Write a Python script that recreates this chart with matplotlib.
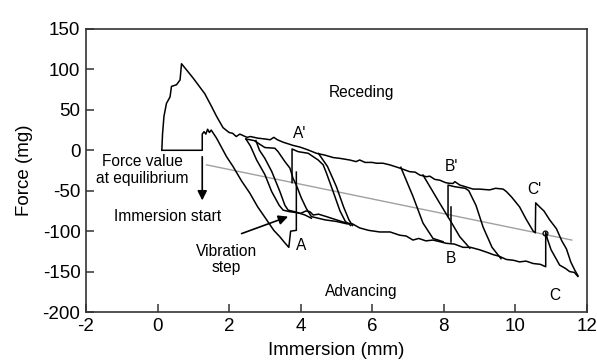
import matplotlib
matplotlib.use("Agg")
import matplotlib.pyplot as plt

plt.rcParams['font.family'] = ['Liberation Sans', 'DejaVu Sans']
plt.rcParams['axes.unicode_minus'] = False

# ---- data (immersion mm, force mg) ----
# equilibrium + first peak + receding (upper) envelope + C' step + final descent
top_x = [0.12, 0.14, 0.18, 0.25, 0.35, 0.39, 0.53, 0.63, 0.67, 0.8, 1.0, 1.32, 1.5, 1.65, 1.83, 2.0, 2.1,
         2.2, 2.3, 2.4, 2.5, 2.6, 2.8, 3.0, 3.15, 3.25, 3.35, 3.51, 3.79, 3.98, 4.21, 4.44, 4.68, 4.91,
         5.1, 5.37, 5.55, 5.65, 5.8, 6.0, 6.12, 6.3, 6.49, 6.77, 7.05, 7.2, 7.33, 7.52, 7.61, 7.75, 7.89,
         8.05, 8.15, 8.26, 8.31, 8.45, 8.6, 8.82, 9.0, 9.28, 9.45, 9.66, 9.75, 9.9, 10.12, 10.3, 10.5,
         10.56, 10.57, 10.68, 10.8, 10.96, 11.15, 11.3, 11.43, 11.55, 11.66, 11.75]
top_y = [0, 20, 42, 58, 66, 79, 81, 87, 107, 100, 89, 70, 55, 42, 28, 22, 21,
         17, 20, 18, 16, 17, 15, 14, 13, 16, 13, 10, 6, 4, 0.4, -3.7, -6, -9,
         -10, -12, -14, -12, -15, -15, -16, -16, -18, -22, -26.5, -27, -30.6, -32.7, -32, -36, -37,
         -40, -40.8, -41, -38.8, -43, -45, -48, -48, -49, -47, -48, -51, -58, -70, -85, -100,
         -102, -65, -70, -75, -86, -97, -112, -122, -138, -148, -155]

# equilibrium baseline, immersion start, first advancing run to A, vibration step at A
init_x = [0.12, 1.25, 1.25, 1.3, 1.35, 1.4, 1.45, 1.5, 1.65, 1.93, 2.11, 2.35, 2.58, 2.8, 3.05, 3.25,
          3.42, 3.55, 3.67, 3.72, 3.88, 3.88]
init_y = [0, 0, 20, 23, 20, 26, 22, 25, 15, -8, -20, -38, -53, -70, -86, -99,
          -107, -114, -120, -100, -99, -27]

# advancing (lower) envelope incl. vibration step at C and final descent
low_x = [2.47, 2.6, 2.77, 3.0, 3.19, 3.4, 3.51, 3.7, 3.88, 4.0, 4.15, 4.26, 4.35, 4.5, 4.72, 5.0, 5.28,
         5.45, 5.65, 5.9, 6.21, 6.5, 6.77, 6.95, 7.14, 7.3, 7.5, 7.7, 7.89, 8.07, 8.3, 8.54, 8.75, 9.0,
         9.2, 9.38, 9.55, 9.75, 9.95, 10.12, 10.3, 10.5, 10.7, 10.85, 10.85, 10.9, 11.0, 11.24, 11.4,
         11.52, 11.65, 11.75]
low_y = [14, 5, -12, -30, -51, -68, -74, -76, -77, -78, -75, -76, -80, -79, -82, -86, -90,
         -91, -96, -99, -101, -101, -105, -106, -111, -109, -112, -111, -113, -115, -116, -120, -120, -123,
         -126, -129, -131, -135, -136, -138, -137, -140, -141, -144, -101, -110, -123, -142, -146,
         -150, -151, -156]

# additional descending branches of the hysteresis loops
k2_x = [2.47, 2.7, 3.0, 3.28, 3.37, 3.56, 3.7, 3.79, 3.88, 4.02, 4.16, 4.3, 4.49, 4.68, 5.0, 5.3]
k2_y = [14, 12, 3.4, 2.5, -1.7, -14, -22, -35, -43, -59, -72, -82, -84, -86, -88, -91]

k3_x = [2.75, 2.85, 3.0, 3.19, 3.42, 3.56, 3.65, 3.84, 4.12, 4.3]
k3_y = [12, 0, -10, -26, -51, -68, -74, -76, -80, -84]

ap_x = [3.76, 3.76, 3.93, 4.21, 4.49, 4.63, 4.72, 4.9, 5.1, 5.25, 5.4]
ap_y = [-40, 1.6, -1.7, -3.7, -12, -18, -28, -50, -75, -88, -93]

da_x = [4.5, 4.75, 5.0, 5.2, 5.35, 5.45]
da_y = [-4, -20, -45, -70, -86, -93]

db1_x = [6.8, 7.14, 7.42, 7.7, 7.98]
db1_y = [-21, -57, -90, -109, -113]

db2_x = [7.42, 7.89, 8.17, 8.45, 8.73]
db2_y = [-30.6, -65.6, -86, -107, -121]

bp_x = [8.12, 8.12, 8.3, 8.6, 8.7, 8.9, 9.1, 9.35, 9.6]
bp_y = [-82, -43, -45, -47, -50, -68, -95, -120, -134]

b_x = [8.19, 8.19]
b_y = [-113, -70]

# equilibrium (gray) line
eq_x = [1.37, 11.58]
eq_y = [-18, -111]

circle_x = [10.83]
circle_y = [-102]

fig = plt.figure(figsize=(5.97, 3.62), dpi=100)
ax = fig.add_axes([0.144, 0.138, 0.839, 0.782])

ax.plot(eq_x, eq_y, color='#a0a0a0', lw=1.0)
lw = 1.1
for xs, ys in [(top_x, top_y), (init_x, init_y), (low_x, low_y), (k2_x, k2_y), (k3_x, k3_y),
               (ap_x, ap_y), (da_x, da_y), (db1_x, db1_y), (db2_x, db2_y), (bp_x, bp_y), (b_x, b_y)]:
    ax.plot(xs, ys, color='black', lw=lw, solid_joinstyle='round')
ax.plot(circle_x, circle_y, 'o', mfc='none', mec='black', ms=3.5, mew=0.9)

ax.set_xlim(-2, 12)
ax.set_ylim(-200, 150)
ax.set_xticks(range(-2, 13, 2))
ax.set_yticks(range(-200, 151, 50))
ax.tick_params(direction='in', length=6, width=1.1, labelsize=13.5, pad=4, color='#333333',
               top=False, right=False)
for s in ax.spines.values():
    s.set_linewidth(1.2)
    s.set_color('#333333')

ax.set_xlabel('Immersion (mm)', fontsize=13.5, labelpad=5)
ax.set_ylabel('Force (mg)', fontsize=13.5, labelpad=7)

fs = 11.2
ax.text(5.7, 72, 'Receding', fontsize=fs, ha='center', va='center')
ax.text(5.7, -175, 'Advancing', fontsize=fs, ha='center', va='center')
ax.text(3.96, 21, "A'", fontsize=fs, ha='center', va='center')
ax.text(8.21, -20, "B'", fontsize=fs, ha='center', va='center')
ax.text(10.54, -49, "C'", fontsize=fs, ha='center', va='center')
ax.text(4.02, -118, 'A', fontsize=fs, ha='center', va='center')
ax.text(8.21, -134, 'B', fontsize=fs, ha='center', va='center')
ax.text(11.1, -180, 'C', fontsize=fs, ha='center', va='center')
ax.text(-0.42, -24, 'Force value\nat equilibrium', fontsize=fs, ha='center', va='center',
        linespacing=1.15)
ax.text(0.28, -82, 'Immersion start', fontsize=fs, ha='center', va='center')
ax.text(1.93, -135, 'Vibration\nstep', fontsize=fs, ha='center', va='center', linespacing=1.15)

ax.annotate('', xy=(1.25, -62), xytext=(1.25, -8),
            arrowprops=dict(arrowstyle='-|>', color='black', lw=1.2, mutation_scale=14,
                            shrinkA=0, shrinkB=0))
ax.annotate('', xy=(3.65, -82), xytext=(2.35, -103),
            arrowprops=dict(arrowstyle='-|>', color='black', lw=1.2, mutation_scale=14,
                            shrinkA=0, shrinkB=0))

fig.savefig('out.png', dpi=100)
